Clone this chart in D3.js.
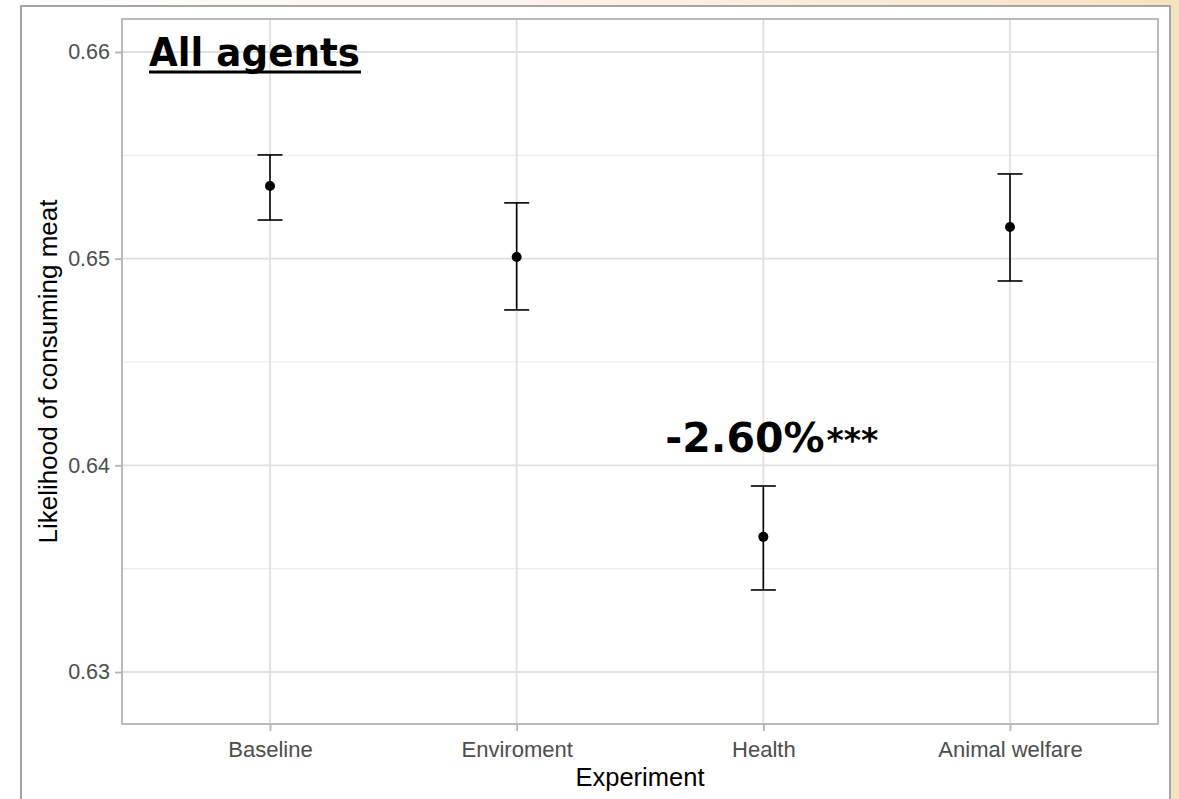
<!DOCTYPE html>
<html>
<head>
<meta charset="utf-8">
<script src="https://cdn.jsdelivr.net/npm/d3@7"></script>
<style>
  html, body { margin: 0; padding: 0; background: #ffffff; }
  svg { display: block; }
</style>
</head>
<body>
<svg id="chart" width="1179" height="799"></svg>
<script>
// Experiment conditions and estimated likelihood of consuming meat (with CI bounds)
const categories = ["Baseline", "Enviroment", "Health", "Animal welfare"];
const meanValues = [0.65352, 0.65008, 0.63654, 0.65153];
const lowerValues = [0.65187, 0.64752, 0.63397, 0.64892];
const upperValues = [0.65502, 0.65270, 0.63900, 0.65410];
const yTicks = [0.63, 0.64, 0.65, 0.66];
const yMinorTicks = [0.635, 0.645, 0.655];
const annotation = { category: "Health", label: "-2.60%", stars: "***" };

const svg = d3.select("#chart");
const W = 1179, H = 799;

// Page frame: warm strip along the top and right, white sheet with grey border
const defs = svg.append("defs");
const grad = defs.append("linearGradient").attr("id", "topStrip")
  .attr("x1", "0").attr("x2", "1").attr("y1", "0").attr("y2", "0");
grad.append("stop").attr("offset", "0").attr("stop-color", "#ffffff");
grad.append("stop").attr("offset", "0.45").attr("stop-color", "#fdf3ec");
grad.append("stop").attr("offset", "1").attr("stop-color", "#f6e2c2");
svg.append("rect").attr("x", 0).attr("y", 0).attr("width", W).attr("height", 6)
  .attr("fill", "url(#topStrip)");
svg.append("rect").attr("x", 1171).attr("y", 0).attr("width", 8).attr("height", H)
  .attr("fill", "#f6e2c2");
svg.append("rect").attr("x", 21).attr("y", 6).attr("width", 1149).attr("height", H)
  .attr("fill", "#ffffff").attr("stroke", "#a6a6a6").attr("stroke-width", 2);

// Panel area
const panel = { left: 122, right: 1158, top: 19, bottom: 724 };

const x = d3.scalePoint()
  .domain(categories)
  .range([panel.left, panel.right])
  .padding(0.6);

const y = d3.scaleLinear()
  .domain([0.627484, 0.661597])
  .range([panel.bottom, panel.top]);

const g = svg.append("g");

// Minor grid
g.selectAll("line.minor").data(yMinorTicks).enter().append("line")
  .attr("x1", panel.left).attr("x2", panel.right)
  .attr("y1", d => y(d)).attr("y2", d => y(d))
  .attr("stroke", "#ececec").attr("stroke-width", 1.2);

// Major grid
g.selectAll("line.majorY").data(yTicks).enter().append("line")
  .attr("x1", panel.left).attr("x2", panel.right)
  .attr("y1", d => y(d)).attr("y2", d => y(d))
  .attr("stroke", "#e0e0e0").attr("stroke-width", 1.8);
g.selectAll("line.majorX").data(categories).enter().append("line")
  .attr("x1", d => x(d)).attr("x2", d => x(d))
  .attr("y1", panel.top).attr("y2", panel.bottom)
  .attr("stroke", "#e0e0e0").attr("stroke-width", 1.8);

// Panel border
g.append("rect")
  .attr("x", panel.left).attr("y", panel.top)
  .attr("width", panel.right - panel.left).attr("height", panel.bottom - panel.top)
  .attr("fill", "none").attr("stroke", "#b3b3b3").attr("stroke-width", 1.8);

// Axes
const yAxis = d3.axisLeft(y).tickValues(yTicks).tickFormat(d3.format(".2f"))
  .tickSize(7).tickPadding(5);
const yAxisG = svg.append("g").attr("transform", `translate(${panel.left},0)`).call(yAxis);
yAxisG.select(".domain").remove();
yAxisG.selectAll(".tick line").attr("stroke", "#b3b3b3").attr("stroke-width", 1.8);
yAxisG.selectAll(".tick text")
  .attr("fill", "#4d4d4d")
  .style("font-family", "'Liberation Sans', Arial, sans-serif")
  .style("font-size", "21.5px");

const xAxis = d3.axisBottom(x).tickSize(7).tickPadding(10);
const xAxisG = svg.append("g").attr("transform", `translate(0,${panel.bottom})`).call(xAxis);
xAxisG.select(".domain").remove();
xAxisG.selectAll(".tick line").attr("stroke", "#b3b3b3").attr("stroke-width", 1.8);
xAxisG.selectAll(".tick text")
  .attr("fill", "#4d4d4d")
  .style("font-family", "'Liberation Sans', Arial, sans-serif")
  .style("font-size", "22px");

// Axis titles
svg.append("text")
  .attr("x", (panel.left + panel.right) / 2).attr("y", 786)
  .attr("text-anchor", "middle")
  .style("font-family", "'Liberation Sans', Arial, sans-serif")
  .style("font-size", "25.5px")
  .attr("fill", "#000")
  .text("Experiment");

svg.append("text")
  .attr("transform", `translate(57,${(panel.top + panel.bottom) / 2}) rotate(-90)`)
  .attr("text-anchor", "middle")
  .style("font-family", "'Liberation Sans', Arial, sans-serif")
  .style("font-size", "26px")
  .attr("fill", "#000")
  .text("Likelihood of consuming meat");

// Error bars and points
const rows = categories.map((c, i) => ({ c, m: meanValues[i], lo: lowerValues[i], hi: upperValues[i] }));
const capHalf = 12.5;
const eb = g.selectAll("g.eb").data(rows).enter().append("g");
eb.append("line")
  .attr("x1", d => x(d.c)).attr("x2", d => x(d.c))
  .attr("y1", d => y(d.lo)).attr("y2", d => y(d.hi))
  .attr("stroke", "#000").attr("stroke-width", 1.6);
eb.append("line")
  .attr("x1", d => x(d.c) - capHalf).attr("x2", d => x(d.c) + capHalf)
  .attr("y1", d => y(d.hi)).attr("y2", d => y(d.hi))
  .attr("stroke", "#000").attr("stroke-width", 1.6);
eb.append("line")
  .attr("x1", d => x(d.c) - capHalf).attr("x2", d => x(d.c) + capHalf)
  .attr("y1", d => y(d.lo)).attr("y2", d => y(d.lo))
  .attr("stroke", "#000").attr("stroke-width", 1.6);
eb.append("circle")
  .attr("cx", d => x(d.c)).attr("cy", d => y(d.m))
  .attr("r", 5).attr("fill", "#000");

// Title
svg.append("text")
  .attr("x", 149).attr("y", 66)
  .style("font-family", "'DejaVu Sans', Verdana, sans-serif")
  .style("font-weight", "bold")
  .style("font-size", "39px")
  .attr("textLength", 211)
  .attr("lengthAdjust", "spacingAndGlyphs")
  .attr("fill", "#000")
  .text("All agents");
svg.append("line")
  .attr("x1", 149).attr("x2", 361).attr("y1", 72).attr("y2", 72)
  .attr("stroke", "#000").attr("stroke-width", 3);

// Effect annotation above the Health estimate
const ann = svg.append("text")
  .attr("x", x(annotation.category) - 98).attr("y", 452)
  .style("font-family", "'DejaVu Sans', Verdana, sans-serif")
  .style("font-weight", "bold")
  .attr("fill", "#000");
ann.append("tspan").style("font-size", "41px").text(annotation.label);
ann.append("tspan").style("font-size", "33px").attr("dx", 2).text(annotation.stars);
</script>
</body>
</html>
